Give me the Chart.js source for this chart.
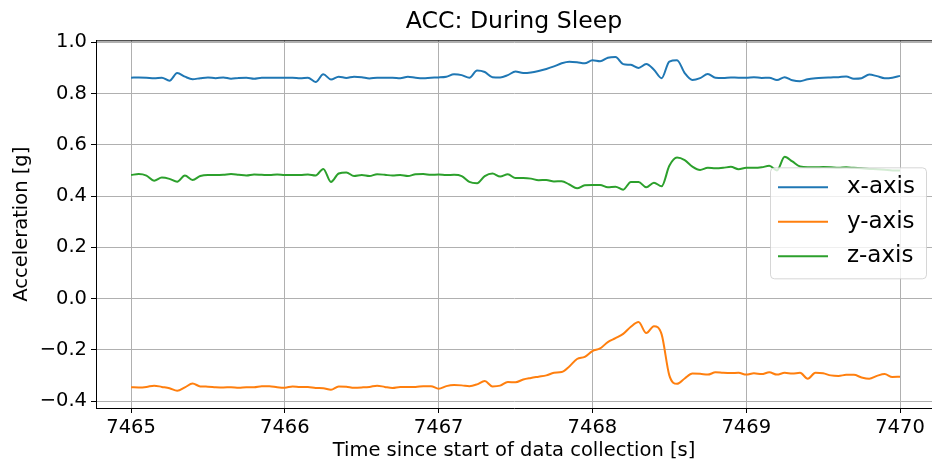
<!DOCTYPE html>
<html>
<head>
<meta charset="utf-8">
<script src="https://cdn.jsdelivr.net/npm/chart.js@4.4.0/dist/chart.umd.min.js"></script>
<style>
  html, body { margin: 0; padding: 0; background: #fff; overflow: hidden; }
  #wrap { width: 932px; height: 466px; }
</style>
</head>
<body>
<div id="wrap"><canvas id="accChart"></canvas></div>
<script>
// time stamps [s] (20 Hz)
const times = [
  7465.00, 7465.05, 7465.10, 7465.15, 7465.20, 7465.25, 7465.30, 7465.35, 7465.40, 7465.45,
  7465.50, 7465.55, 7465.60, 7465.65, 7465.70, 7465.75, 7465.80, 7465.85, 7465.90, 7465.95,
  7466.00, 7466.05, 7466.10, 7466.15, 7466.20, 7466.25, 7466.30, 7466.35, 7466.40, 7466.45,
  7466.50, 7466.55, 7466.60, 7466.65, 7466.70, 7466.75, 7466.80, 7466.85, 7466.90, 7466.95,
  7467.00, 7467.05, 7467.10, 7467.15, 7467.20, 7467.25, 7467.30, 7467.35, 7467.40, 7467.45,
  7467.50, 7467.55, 7467.60, 7467.65, 7467.70, 7467.75, 7467.80, 7467.85, 7467.90, 7467.95,
  7468.00, 7468.05, 7468.10, 7468.15, 7468.20, 7468.25, 7468.30, 7468.35, 7468.40, 7468.45,
  7468.50, 7468.55, 7468.60, 7468.65, 7468.70, 7468.75, 7468.80, 7468.85, 7468.90, 7468.95,
  7469.00, 7469.05, 7469.10, 7469.15, 7469.20, 7469.25, 7469.30, 7469.35, 7469.40, 7469.45,
  7469.50, 7469.55, 7469.60, 7469.65, 7469.70, 7469.75, 7469.80, 7469.85, 7469.90, 7469.95,
  7470.00
];

// acceleration [g]
const accX = [
  0.862, 0.863, 0.862, 0.860, 0.862, 0.850, 0.880, 0.866, 0.856, 0.860,
  0.863, 0.860, 0.863, 0.858, 0.861, 0.862, 0.858, 0.862, 0.862, 0.862,
  0.862, 0.862, 0.860, 0.862, 0.845, 0.875, 0.855, 0.866, 0.861, 0.866,
  0.864, 0.859, 0.862, 0.862, 0.862, 0.860, 0.866, 0.862, 0.860, 0.862,
  0.863, 0.866, 0.875, 0.872, 0.862, 0.890, 0.884, 0.864, 0.863, 0.872,
  0.886, 0.880, 0.882, 0.888, 0.896, 0.906, 0.918, 0.924, 0.922, 0.918,
  0.930, 0.926, 0.940, 0.943, 0.915, 0.912, 0.900, 0.915, 0.893, 0.860,
  0.925, 0.930, 0.880, 0.853, 0.860, 0.876, 0.862, 0.861, 0.863, 0.862,
  0.862, 0.864, 0.861, 0.862, 0.853, 0.864, 0.852, 0.848, 0.856, 0.860,
  0.862, 0.863, 0.864, 0.867, 0.858, 0.860, 0.874, 0.868, 0.860, 0.862,
  0.869
];
const accY = [
  -0.346, -0.347, -0.345, -0.340, -0.345, -0.350, -0.360, -0.347, -0.332, -0.343,
  -0.344, -0.346, -0.347, -0.346, -0.348, -0.346, -0.346, -0.342, -0.342, -0.346,
  -0.348, -0.343, -0.345, -0.345, -0.349, -0.350, -0.356, -0.343, -0.344, -0.348,
  -0.347, -0.345, -0.340, -0.345, -0.349, -0.345, -0.345, -0.345, -0.342, -0.342,
  -0.352, -0.342, -0.338, -0.339, -0.342, -0.335, -0.322, -0.343, -0.340, -0.326,
  -0.327, -0.316, -0.310, -0.305, -0.300, -0.290, -0.287, -0.265, -0.236, -0.228,
  -0.205, -0.195, -0.170, -0.155, -0.138, -0.110, -0.092, -0.135, -0.108, -0.140,
  -0.300, -0.333, -0.312, -0.293, -0.294, -0.297, -0.288, -0.290, -0.291, -0.290,
  -0.297, -0.292, -0.295, -0.288, -0.297, -0.290, -0.293, -0.290, -0.313, -0.290,
  -0.292, -0.300, -0.302, -0.298, -0.298, -0.308, -0.313, -0.302, -0.295, -0.306,
  -0.305
];
const accZ = [
  0.482, 0.486, 0.480, 0.460, 0.472, 0.467, 0.456, 0.480, 0.463, 0.478,
  0.482, 0.482, 0.483, 0.486, 0.483, 0.480, 0.484, 0.483, 0.482, 0.484,
  0.482, 0.482, 0.482, 0.484, 0.480, 0.506, 0.455, 0.488, 0.492, 0.478,
  0.482, 0.478, 0.485, 0.483, 0.480, 0.482, 0.478, 0.485, 0.486, 0.483,
  0.484, 0.482, 0.483, 0.478, 0.455, 0.450, 0.478, 0.488, 0.476, 0.485,
  0.470, 0.470, 0.468, 0.462, 0.463, 0.457, 0.458, 0.445, 0.430, 0.442,
  0.443, 0.443, 0.434, 0.436, 0.425, 0.455, 0.455, 0.434, 0.452, 0.438,
  0.518, 0.550, 0.540, 0.515, 0.502, 0.510, 0.508, 0.510, 0.514, 0.505,
  0.510, 0.510, 0.512, 0.518, 0.500, 0.553, 0.535, 0.515, 0.512, 0.512,
  0.513, 0.512, 0.510, 0.512, 0.510, 0.508, 0.506, 0.505, 0.503, 0.500,
  0.500
];

const seriesNames = ["x-axis", "y-axis", "z-axis"];
const seriesColors = ["#1f77b4", "#ff7f0e", "#2ca02c"];
const xTicks = [7465, 7466, 7467, 7468, 7469, 7470];
const yTicks = [-0.4, -0.2, 0.0, 0.2, 0.4, 0.6, 0.8, 1.0];

const FONT = "'DejaVu Sans', sans-serif";
Chart.defaults.font.family = FONT;
Chart.defaults.color = "#000";

const toPoints = (vals) => vals.map((v, i) => ({ x: times[i], y: v }));

// top spine (matplotlib draws a full box)
const topSpine = {
  id: "topSpine",
  afterDatasetsDraw(chart) {
    const { ctx, chartArea } = chart;
    ctx.save();
    ctx.strokeStyle = "#000";
    ctx.lineWidth = 1;
    ctx.beginPath();
    ctx.moveTo(chartArea.left, chartArea.top + 0.5);
    ctx.lineTo(chartArea.right, chartArea.top + 0.5);
    ctx.stroke();
    ctx.restore();
  },
};

// legend box drawn inside the axes, semi transparent like matplotlib
const boxLegend = {
  id: "boxLegend",
  afterDraw(chart) {
    const { ctx, chartArea } = chart;
    const w = 156, h = 111;
    const x = chartArea.right - w - 6;
    const y = chartArea.top + 127;
    ctx.save();
    ctx.beginPath();
    ctx.roundRect(x + 0.5, y + 0.5, w, h, 4);
    ctx.fillStyle = "rgba(255,255,255,0.8)";
    ctx.fill();
    ctx.strokeStyle = "rgba(204,204,204,0.8)";
    ctx.lineWidth = 1;
    ctx.stroke();
    ctx.font = "23px " + FONT;
    ctx.textBaseline = "middle";
    chart.data.datasets.forEach((ds, i) => {
      const ly = y + 20 + i * 34.5;
      ctx.strokeStyle = ds.borderColor;
      ctx.lineWidth = 2;
      ctx.beginPath();
      ctx.moveTo(x + 8, ly);
      ctx.lineTo(x + 58, ly);
      ctx.stroke();
      ctx.fillStyle = "#000";
      ctx.fillText(ds.label, x + 77, ly);
    });
    ctx.restore();
  },
};

const datasets = [accX, accY, accZ].map((vals, i) => ({
  label: seriesNames[i],
  data: toPoints(vals),
  borderColor: seriesColors[i],
  backgroundColor: seriesColors[i],
  borderWidth: 2,
  borderJoinStyle: "round",
  pointRadius: 0,
  cubicInterpolationMode: "monotone",
  fill: false,
}));

new Chart(document.getElementById("accChart"), {
  type: "line",
  data: { datasets: datasets },
  options: {
    responsive: true,
    maintainAspectRatio: false,
    animation: false,
    layout: { padding: 0 },
    plugins: {
      legend: { display: false },
      tooltip: { enabled: false },
      title: {
        display: true,
        text: "ACC: During Sleep",
        fullSize: false,
        font: { size: 23.6, weight: "normal" },
        padding: { top: 8, bottom: 4 },
      },
    },
    scales: {
      x: {
        type: "linear",
        min: 7464.772,
        max: 7470.208,
        afterBuildTicks: (scale) => {
          scale.ticks = xTicks.map((v) => ({ value: v }));
        },
        afterFit: (scale) => {
          scale.height = 58;
        },
        ticks: {
          autoSkip: false,
          maxRotation: 0,
          padding: 3,
          font: { size: 19.5 },
          callback: (v) => String(v),
        },
        grid: {
          color: "#b0b0b0",
          lineWidth: 1,
          tickColor: "#000",
          tickLength: 5,
          tickWidth: 1,
        },
        border: { display: true, color: "#000", width: 1 },
        title: {
          display: true,
          text: "Time since start of data collection [s]",
          font: { size: 19.5 },
          padding: { top: 0, bottom: 3 },
        },
      },
      y: {
        type: "linear",
        min: -0.4273,
        max: 1.0078,
        afterBuildTicks: (scale) => {
          scale.ticks = yTicks.map((v) => ({ value: v }));
        },
        afterFit: (scale) => {
          scale.width = 96;
        },
        ticks: {
          padding: 4,
          font: { size: 19.5 },
          callback: (v) => v.toFixed(1).replace("-", "\u2212"),
        },
        grid: {
          color: "#b0b0b0",
          lineWidth: 1,
          tickColor: "#000",
          tickLength: 5,
          tickWidth: 1,
        },
        border: { display: true, color: "#000", width: 1 },
        title: {
          display: true,
          text: "Acceleration [g]",
          font: { size: 19.5 },
          padding: { top: 10, bottom: 0 },
        },
      },
    },
  },
  plugins: [topSpine, boxLegend],
});
</script>
</body>
</html>
